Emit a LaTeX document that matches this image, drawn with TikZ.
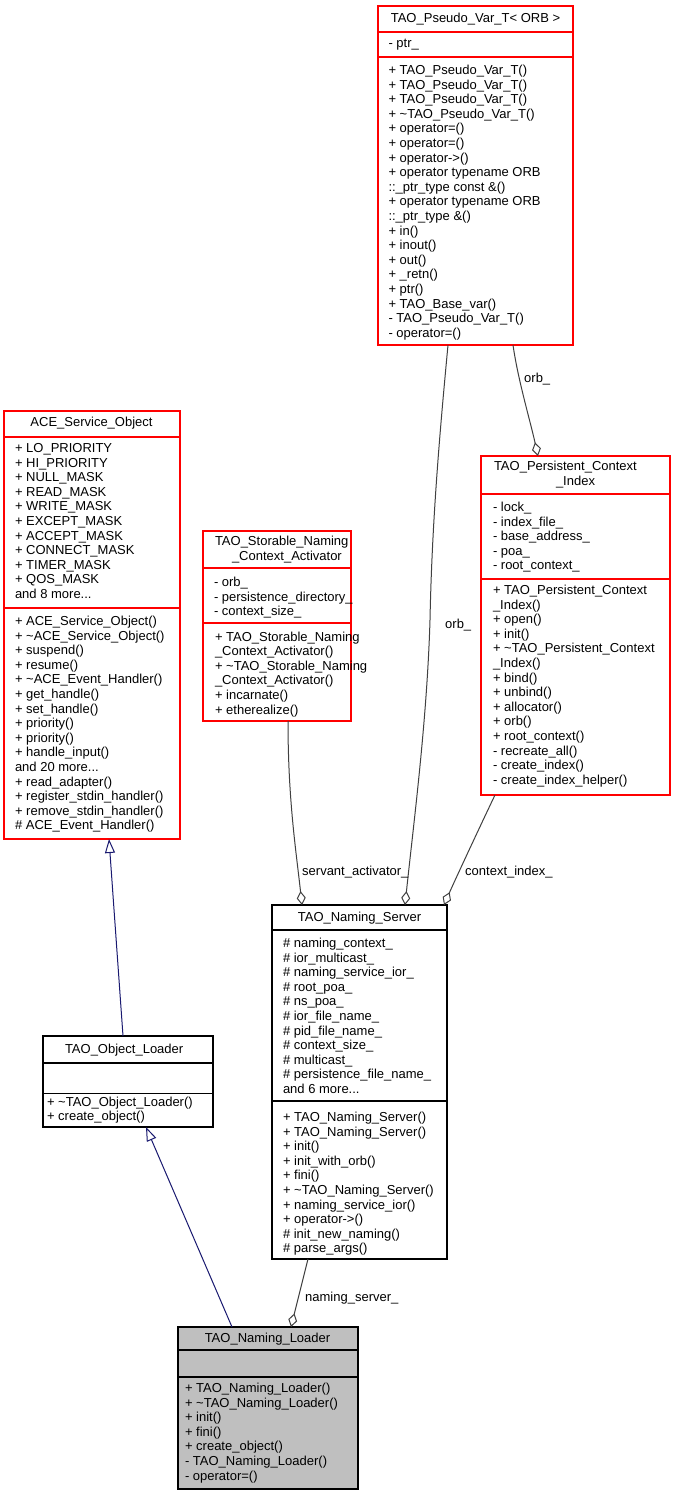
\documentclass[tikz,border=0pt]{standalone}
\usepackage{fontspec}
\setmainfont{Liberation Sans}
\usetikzlibrary{arrows.meta}
\definecolor{umlred}{HTML}{FF0000}
\definecolor{aggc}{HTML}{404040}
\definecolor{inhc}{HTML}{191970}
\definecolor{grayfill}{HTML}{BFBFBF}
\newcommand\fsz{\fontsize{13}{14.6}\selectfont\lineskiplimit=-30pt\relax}
\newcommand\ms{\rule{0pt}{11pt}}
\newcommand\tdots{...}
\tikzset{
  box/.style={rectangle, line width=1.2pt, inner sep=0pt, outer sep=0pt},
  sec/.style={align=left, inner sep=0pt, outer sep=0pt, font=\fsz, anchor=north west},
  ttl/.style={align=center, inner sep=0pt, outer sep=0pt, font=\fsz, anchor=north},
  tl/.style={anchor=base west, inner sep=0pt, outer sep=0pt, font=\fsz},
  lbl/.style={anchor=base west, inner sep=0pt, font=\fsz},
  agg/.style={draw=aggc, line width=1pt, -{Diamond[open, length=14pt, width=9pt]}},
  inh/.style={draw=inhc, line width=1pt, -{Triangle[open, length=14pt, width=10pt]}},
}
\newcommand\umlbox[9]{%
  \node[box, draw=#2, fill=#3, minimum width={#6-#4}, minimum height={#7-#5}, anchor=north west] (#1) at (#4,#5) {};
  \draw[#2, line width=1.2pt] (#1.west |- 0,#8) -- (#1.east |- 0,#8);
  \draw[#2, line width=1.2pt] (#1.west |- 0,#9) -- (#1.east |- 0,#9);}
\begin{document}
\catcode`\_=12\relax
\begin{tikzpicture}[x=1pt, y=-1pt]
\fill[white] (0,0) rectangle (675,1496);
\useasboundingbox (0,0) rectangle (675,1496);

% ---- TAO_Pseudo_Var_T
\umlbox{pv}{umlred}{white}{378}{6}{573}{345}{32}{57}
\node[ttl] (pvt) at (475.5,11.5) {\ms TAO_Pseudo_Var_T< ORB >};
\node[sec] (pva) at (388.5,36.5) {\ms - ptr_};
\node[sec] (pvm) at (388.5,63.5) {\ms + TAO_Pseudo_Var_T()\\
+ TAO_Pseudo_Var_T()\\
+ TAO_Pseudo_Var_T()\\
+ \textasciitilde TAO_Pseudo_Var_T()\\
+ operator=()\\
+ operator=()\\
+ operator->()\\
+ operator typename ORB\\
::_ptr_type const \&()\\
+ operator typename ORB\\
::_ptr_type \&()\\
+ in()\\
+ inout()\\
+ out()\\
+ _retn()\\
+ ptr()\\
+ TAO_Base_var()\\
- TAO_Pseudo_Var_T()\\
- operator=()};

% ---- ACE_Service_Object
\umlbox{ace}{umlred}{white}{4}{411}{180}{839}{437}{608}
\node[ttl] (acet) at (91.5,415.5) {\ms ACE_Service_Object};
\node[sec] (acea) at (15,441.5) {\ms + LO_PRIORITY\\
+ HI_PRIORITY\\
+ NULL_MASK\\
+ READ_MASK\\
+ WRITE_MASK\\
+ EXCEPT_MASK\\
+ ACCEPT_MASK\\
+ CONNECT_MASK\\
+ TIMER_MASK\\
+ QOS_MASK\\
and 8 more\tdots};
\node[sec] (acem) at (15,614.5) {\ms + ACE_Service_Object()\\
+ \textasciitilde ACE_Service_Object()\\
+ suspend()\\
+ resume()\\
+ \textasciitilde ACE_Event_Handler()\\
+ get_handle()\\
+ set_handle()\\
+ priority()\\
+ priority()\\
+ handle_input()\\
and 20 more\tdots\\
+ read_adapter()\\
+ register_stdin_handler()\\
+ remove_stdin_handler()\\
\# ACE_Event_Handler()};

% ---- TAO_Storable_Naming_Context_Activator
\umlbox{sa}{umlred}{white}{203}{531}{351}{721}{568}{623}
\node[tl] (sat1) at (215,545.5) {TAO_Storable_Naming};
\node[tl] (sat2) at (232,560) {_Context_Activator};
\node[sec] (saa) at (214,575.5) {\ms - orb_\\
- persistence_directory_\\
- context_size_};
\node[sec] (sam) at (215,630) {\ms + TAO_Storable_Naming\\
_Context_Activator()\\
+ \textasciitilde TAO_Storable_Naming\\
_Context_Activator()\\
+ incarnate()\\
+ etherealize()};

% ---- TAO_Persistent_Context_Index
\umlbox{pci}{umlred}{white}{481}{456}{670}{795}{494}{579}
\node[tl] (pcit1) at (494,470.5) {TAO_Persistent_Context};
\node[tl] (pcit2) at (556,485.5) {_Index};
\node[sec] (pcia) at (493,500.5) {\ms - lock_\\
- index_file_\\
- base_address_\\
- poa_\\
- root_context_};
\node[sec] (pcim) at (493,583.5) {\ms + TAO_Persistent_Context\\
_Index()\\
+ open()\\
+ init()\\
+ \textasciitilde TAO_Persistent_Context\\
_Index()\\
+ bind()\\
+ unbind()\\
+ allocator()\\
+ orb()\\
+ root_context()\\
- recreate_all()\\
- create_index()\\
- create_index_helper()};

% ---- TAO_Naming_Server
\umlbox{ns}{black}{white}{272}{905}{447}{1259}{930}{1101}
\node[ttl] (nst) at (359.5,910.5) {\ms TAO_Naming_Server};
\node[sec] (nsa) at (283,936.5) {\ms \# naming_context_\\
\# ior_multicast_\\
\# naming_service_ior_\\
\# root_poa_\\
\# ns_poa_\\
\# ior_file_name_\\
\# pid_file_name_\\
\# context_size_\\
\# multicast_\\
\# persistence_file_name_\\
and 6 more\tdots};
\node[sec] (nsm) at (283,1110.5) {\ms + TAO_Naming_Server()\\
+ TAO_Naming_Server()\\
+ init()\\
+ init_with_orb()\\
+ fini()\\
+ \textasciitilde TAO_Naming_Server()\\
+ naming_service_ior()\\
+ operator->()\\
\# init_new_naming()\\
\# parse_args()};

% ---- TAO_Object_Loader
\umlbox{ol}{black}{white}{43}{1036}{213}{1127}{1063}{1093.5}
\node[tl] (olt) at (65,1053.5) {TAO_Object_Loader};
\node[sec] (olm) at (47,1095) {\ms + \textasciitilde TAO_Object_Loader()\\
+ create_object()};

% ---- TAO_Naming_Loader
\umlbox{nl}{black}{grayfill}{178}{1327}{358}{1489}{1350}{1377}
\node[ttl] (nlt) at (267.5,1331.5) {\ms TAO_Naming_Loader};
\node[sec] (nlm) at (185,1381.5) {\ms + TAO_Naming_Loader()\\
+ \textasciitilde TAO_Naming_Loader()\\
+ init()\\
+ fini()\\
+ create_object()\\
- TAO_Naming_Loader()\\
- operator=()};

% ---- connectors
\draw[agg] (513,0 |- pv.south) .. controls (518,380) and (530,420) .. (538,0 |- pci.north);
\draw[agg] (448,0 |- pv.south) .. controls (440,430) and (432,520) .. (430,620)
  .. controls (427,720) and (414,820) .. (405,0 |- ns.north);
\draw[agg] (288,0 |- sa.south) .. controls (288,800) and (296,850) .. (302,0 |- ns.north);
\draw[agg] (495,0 |- pci.south) .. controls (483,820) and (455,880) .. (444,0 |- ns.north);
\draw[agg] (308,0 |- ns.south) -- (291,0 |- nl.north);
\draw[inh] (123,0 |- ol.north) -- (109,0 |- ace.south);
\draw[inh] (232,0 |- nl.north) -- (146,0 |- ol.south);

\node[lbl] (l1) at (524,382) {orb_};
\node[lbl] (l2) at (445,628.5) {orb_};
\node[lbl] (l3) at (302,875) {servant_activator_};
\node[lbl] (l4) at (465,875) {context_index_};
\node[lbl] (l5) at (305,1301) {naming_server_};
\end{tikzpicture}
\end{document}
